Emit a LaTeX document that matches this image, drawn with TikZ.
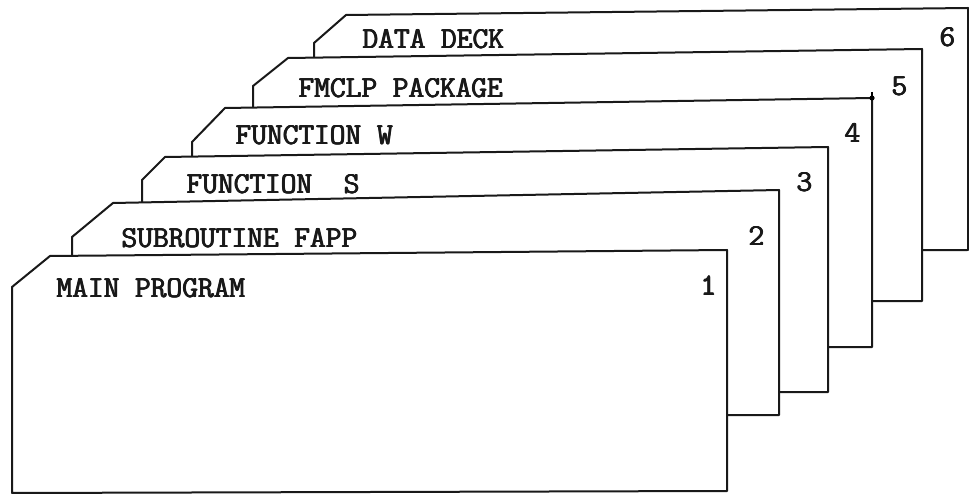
\documentclass[tikz,border=0pt]{standalone}
\newcommand{\heavytext}[1]{\makebox[0pt][l]{\hspace{1.0pt}#1}\makebox[0pt][l]{\hspace{0.5pt}#1}\makebox[0pt][l]{\raisebox{0.4pt}{\hspace{0.5pt}#1}}#1}
\begin{document}
\begin{tikzpicture}[x=1pt,y=-1pt,
  card/.style={draw=black!90,line width=2.0pt,fill=white,line join=round},
  lbl/.style={inner sep=0pt,anchor=base west,font=\fontsize{30.5}{36}\selectfont\ttfamily,text=black!90},
  num/.style={inner sep=0pt,anchor=base,font=\fontsize{30.5}{36}\selectfont\ttfamily,text=black!90}]
\useasboundingbox (0,0) rectangle (969,494);
% card corners: a = chamfer top, b = chamfer bottom, c = top right, d = bottom right, e = bottom left
\coordinate (a6) at (346,15);  \coordinate (b6) at (314,43);  \coordinate (c6) at (968,8);   \coordinate (d6) at (968,250);   \coordinate (e6) at (314,251);
\coordinate (a5) at (288,58);  \coordinate (b5) at (253,86);  \coordinate (c5) at (922,49);  \coordinate (d5) at (922,301);   \coordinate (e5) at (253,302);
\coordinate (a4) at (225,108); \coordinate (b4) at (192,142); \coordinate (c4) at (872,98);  \coordinate (d4) at (872,347);   \coordinate (e4) at (192,348);
\coordinate (a3) at (165,157); \coordinate (b3) at (142,180); \coordinate (c3) at (828,147); \coordinate (d3) at (828,392);   \coordinate (e3) at (142,393);
\coordinate (a2) at (113,203); \coordinate (b2) at (72,237);  \coordinate (c2) at (779,190); \coordinate (d2) at (779,415);   \coordinate (e2) at (72,416);
\coordinate (a1) at (50,256);  \coordinate (b1) at (12,287);  \coordinate (c1) at (727,250); \coordinate (d1) at (727,491);   \coordinate (e1) at (12,493);
\foreach \k in {6,5,4,3,2,1}{
  \draw[card] (a\k) -- (c\k) -- (d\k) -- (e\k) -- (b\k) -- cycle;
}
\coordinate (s4) at (872,92);
\draw[line width=1.6pt] (s4) -- (c4);
\fill (c4) circle (2.6);
% labels
\node[lbl] (t6) at (362,49)  {\heavytext{DATA DECK}};
\node[lbl] (t5) at (298,98)  {\heavytext{FMCLP PACKAGE}};
\node[lbl] (t4) at (235,145) {\heavytext{FUNCTION W}};
\node[lbl] (t3) at (186,194) {\heavytext{FUNCTION\ \ S}};
\node[lbl] (t2) at (121,248) {\heavytext{SUBROUTINE FAPP}};
\node[lbl] (t1) at (56,298)  {\heavytext{MAIN PROGRAM}};
% numbers
\node[num] (n6) at (947,47)  {\heavytext{6}};
\node[num] (n5) at (899,96)  {\heavytext{5}};
\node[num] (n4) at (852,143) {\heavytext{4}};
\node[num] (n3) at (804,192) {\heavytext{3}};
\node[num] (n2) at (756,246) {\heavytext{2}};
\node[num] (n1) at (708,295) {\heavytext{1}};
\end{tikzpicture}
\end{document}
